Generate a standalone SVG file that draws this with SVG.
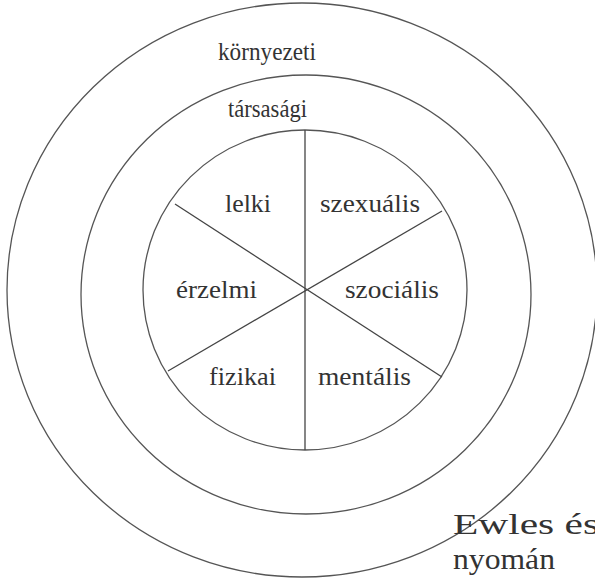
<svg xmlns="http://www.w3.org/2000/svg" width="595" height="579" viewBox="0 0 595 579">
<style>
.c{fill:none;stroke:#555;stroke-width:1.3}
.l{stroke:#444;stroke-width:1.3}
text{font-family:"Liberation Serif","DejaVu Serif",serif;font-size:26px;fill:#333}
.src{font-size:29px}
</style>
<rect width="595" height="579" fill="#fff"/>
<g id="rings">
<ellipse id="outer" class="c" cx="302" cy="290" rx="295" ry="287"/>
<ellipse id="middle" class="c" cx="306" cy="294.5" rx="225" ry="219.5"/>
<ellipse id="inner" class="c" cx="305" cy="290" rx="162" ry="160"/>
</g>
<g id="connectors">
<line class="l" x1="305" y1="130" x2="305" y2="450"/>
<line class="l" x1="175" y1="204" x2="442" y2="377"/>
<line class="l" x1="168" y1="371" x2="442" y2="211"/>
</g>
<g id="labels">
<text x="218" y="60" textLength="98" lengthAdjust="spacingAndGlyphs">környezeti</text>
<text x="228" y="117" textLength="79" lengthAdjust="spacingAndGlyphs">társasági</text>
<text x="225" y="212" textLength="46" lengthAdjust="spacingAndGlyphs">lelki</text>
<text x="320" y="212" textLength="100" lengthAdjust="spacingAndGlyphs">szexuális</text>
<text x="176" y="298" textLength="81" lengthAdjust="spacingAndGlyphs">érzelmi</text>
<text x="345" y="298" textLength="94" lengthAdjust="spacingAndGlyphs">szociális</text>
<text x="209" y="385" textLength="67" lengthAdjust="spacingAndGlyphs">fizikai</text>
<text x="318" y="385" textLength="93" lengthAdjust="spacingAndGlyphs">mentális</text>
<text class="src" x="453" y="534" textLength="146" lengthAdjust="spacingAndGlyphs">Ewles és</text>
<text class="src" x="453" y="569" textLength="102" lengthAdjust="spacingAndGlyphs">nyomán</text>
</g>
</svg>
